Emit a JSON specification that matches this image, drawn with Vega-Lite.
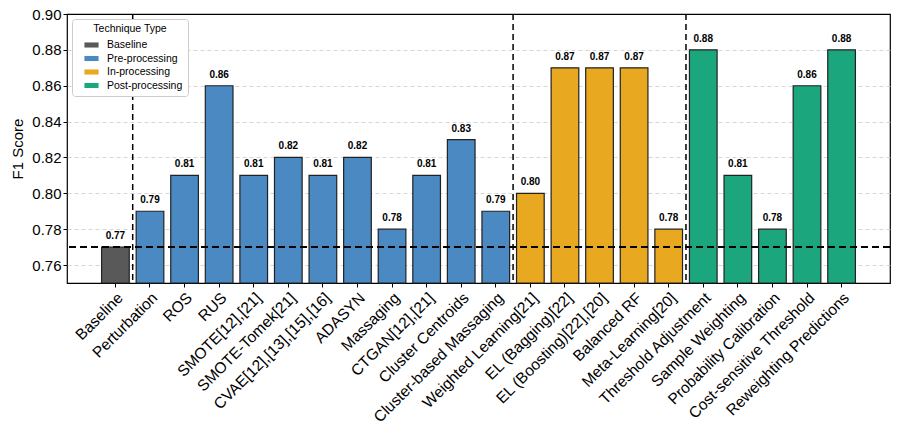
{
  "$schema": "https://vega.github.io/schema/vega-lite/v6.json",
  "autosize": "none",
  "width": 823,
  "height": 269,
  "padding": {"left": 67, "top": 14, "right": 7, "bottom": 162},
  "background": "white",
  "config": {
    "font": "Liberation Sans",
    "view": {"stroke": "black", "strokeWidth": 1.2},
    "axis": {"domain": false, "tickColor": "black", "labelColor": "black", "titleColor": "black", "labelOverlap": false},
    "axisY": {"tickCount": 8, "format": ".2f", "labelFontSize": 15, "labelOverlap": false, "labelFlush": false, "tickSize": 4, "labelPadding": 2, "grid": true, "gridColor": "#cccccc", "gridOpacity": {"condition": {"test": "datum.value > 0.895", "value": 0}, "value": 1}, "gridDash": [4, 3], "gridWidth": 0.8, "titleFontSize": 15, "titleFontWeight": "normal", "titlePadding": 6},
    "axisX": {"labelAngle": -45, "labelAlign": "right", "labelBaseline": "top", "labelFontSize": 15.5, "tickSize": 4, "labelPadding": 3, "grid": false}
  },
  "datasets": {
    "scores": [
      {"method": "Baseline", "type": "Baseline", "f1": 0.77},
      {"method": "Perturbation", "type": "Pre-processing", "f1": 0.79},
      {"method": "ROS", "type": "Pre-processing", "f1": 0.81},
      {"method": "RUS", "type": "Pre-processing", "f1": 0.86},
      {"method": "SMOTE[12],[21]", "type": "Pre-processing", "f1": 0.81},
      {"method": "SMOTE-Tomek[21]", "type": "Pre-processing", "f1": 0.82},
      {"method": "CVAE[12],[13],[15],[16]", "type": "Pre-processing", "f1": 0.81},
      {"method": "ADASYN", "type": "Pre-processing", "f1": 0.82},
      {"method": "Massaging", "type": "Pre-processing", "f1": 0.78},
      {"method": "CTGAN[12],[21]", "type": "Pre-processing", "f1": 0.81},
      {"method": "Cluster Centroids", "type": "Pre-processing", "f1": 0.83},
      {"method": "Cluster-based Massaging", "type": "Pre-processing", "f1": 0.79},
      {"method": "Weighted Learning[21]", "type": "In-processing", "f1": 0.80},
      {"method": "EL (Bagging)[22]", "type": "In-processing", "f1": 0.87},
      {"method": "EL (Boosting)[22],[20]", "type": "In-processing", "f1": 0.87},
      {"method": "Balanced RF", "type": "In-processing", "f1": 0.87},
      {"method": "Meta-Learning[20]", "type": "In-processing", "f1": 0.78},
      {"method": "Threshold Adjustment", "type": "Post-processing", "f1": 0.88},
      {"method": "Sample Weighting", "type": "Post-processing", "f1": 0.81},
      {"method": "Probability Calibration", "type": "Post-processing", "f1": 0.78},
      {"method": "Cost-sensitive Threshold", "type": "Post-processing", "f1": 0.86},
      {"method": "Reweighting Predictions", "type": "Post-processing", "f1": 0.88}
    ],
    "separators": [
      {"after": "Baseline"},
      {"after": "Cluster-based Massaging"},
      {"after": "Meta-Learning[20]"}
    ]
  },
  "layer": [
    {
      "data": {"name": "scores"},
      "mark": {"type": "bar", "stroke": "#222222", "strokeWidth": 1.2},
      "encoding": {
        "x": {
          "field": "method", "type": "nominal", "sort": null, "title": null,
          "scale": {"paddingInner": 0.2, "paddingOuter": 1.1}
        },
        "y": {
          "field": "f1", "type": "quantitative", "title": "F1 Score",
          "scale": {"domain": [0.75, 0.90], "nice": false, "zero": false, "clamp": true}
        },
        "color": {
          "field": "type", "type": "nominal",
          "scale": {"domain": ["Baseline", "Pre-processing", "In-processing", "Post-processing"], "range": ["#595959", "#4A89C1", "#E8A820", "#1BA67E"]},
          "legend": {"title": "Technique Type", "orient": "none", "legendX": 5, "legendY": 5, "titleFontSize": 10.5, "titleFontWeight": "normal", "titleAnchor": "middle", "titleAlign": "center", "labelFontSize": 10.5, "symbolType": "M-1,-0.36L1,-0.36L1,0.36L-1,0.36Z", "symbolSize": 200, "symbolOffset": 7, "labelOffset": 8, "symbolStrokeWidth": 0, "symbolOpacity": 1, "fillColor": "white", "strokeColor": "#cccccc", "cornerRadius": 3, "padding": 5, "rowPadding": 0.5, "titlePadding": 3}
        }
      }
    },
    {
      "data": {"name": "scores"},
      "mark": {"type": "text", "fontWeight": "bold", "fontSize": 10, "baseline": "bottom", "dy": -6, "color": "black"},
      "encoding": {
        "x": {"field": "method", "type": "nominal", "sort": null, "title": null},
        "y": {"field": "f1", "type": "quantitative", "title": "F1 Score"},
        "text": {"field": "f1", "type": "quantitative", "format": ".2f"}
      }
    },
    {
      "data": {"name": "separators"},
      "mark": {"type": "rule", "color": "black", "strokeDash": [6, 4], "strokeWidth": 1.5},
      "encoding": {
        "x": {"field": "after", "type": "nominal", "sort": null, "bandPosition": 1.125, "title": null}
      }
    },
    {
      "data": {"name": "scores"},
      "mark": {"type": "rule", "color": "black", "strokeDash": [7, 4], "strokeWidth": 1.5},
      "encoding": {
        "y": {"datum": 0.77, "title": "F1 Score"}
      }
    }
  ]
}
